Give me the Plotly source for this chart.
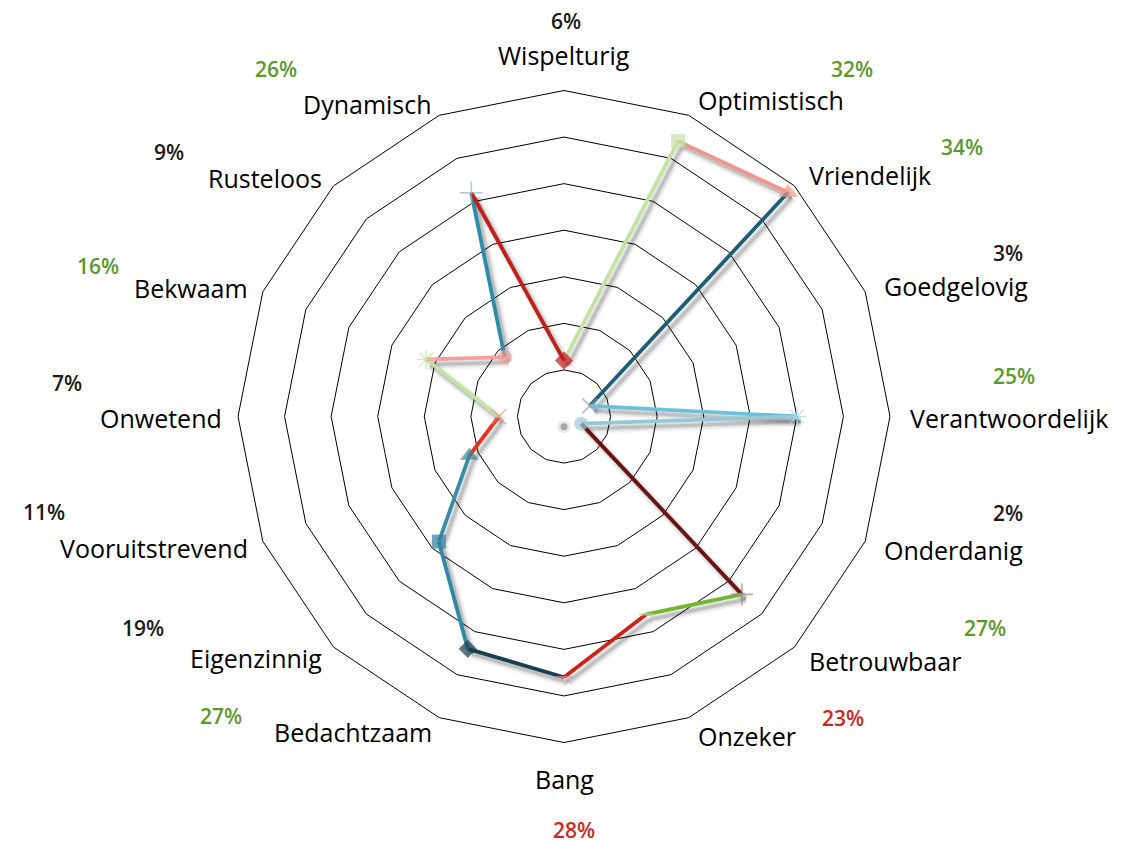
import math
import plotly.graph_objects as go

# ---------------- data ----------------
categories = ["Wispelturig", "Optimistisch", "Vriendelijk", "Goedgelovig",
              "Verantwoordelijk", "Onderdanig", "Betrouwbaar", "Onzeker",
              "Bang", "Bedachtzaam", "Eigenzinnig", "Vooruitstrevend",
              "Onwetend", "Bekwaam", "Rusteloos", "Dynamisch"]
values = [6, 32, 34, 3, 25, 2, 27, 23, 28, 27, 19, 11, 7, 16, 9, 26]
pct_labels = [f"{v}%" for v in values]
pct_colors = ["#1a1a1a", "#5b9a2c", "#5b9a2c", "#1a1a1a", "#5b9a2c", "#1a1a1a",
              "#5b9a2c", "#cc2a1e", "#cc2a1e", "#5b9a2c", "#1a1a1a", "#1a1a1a",
              "#1a1a1a", "#5b9a2c", "#1a1a1a", "#5b9a2c"]
radial_ticks = [5, 10, 15, 20, 25, 30]
radial_max = 35
center_shadow_r = [1.1]
center_shadow_theta = ["Bang"]

# styles: segment i goes from point i to point i+1
segment_colors = ["#c3e3a2", "#f3958c", "#1e5d76", "#6cc0da", "#93c8d8", "#6b1212",
                  "#72b82e", "#cc2218", "#173f4f", "#2f88a6", "#3a8ca6", "#e8321e",
                  "#c3e3a2", "#f3a09a", "#2e8ca8", "#c0201a"]
marker_symbols = ["diamond", "square", "triangle-up", "x-thin-open", "asterisk-open",
                  "circle", "cross-thin-open", "line-ew-open", "line-ew-open",
                  "diamond", "square", "triangle-up", "x-thin-open", "asterisk-open",
                  "circle", "cross-thin-open"]
marker_colors = ["#c01a18", "#c3e3a2", "#f3958c", "#8aa0b4", "#a8d8ea", "#9dcbd8",
                 "#a08a8a", "#b0d890", "#e09090", "#173f4f", "#2e7e9a", "#3a8095",
                 "#f49080", "#c3e3a2", "#f3a09a", "#8ab4c8"]
marker_sizes = [14, 14, 17, 15, 16, 14, 16, 10, 12, 14, 14, 16, 15, 16, 14, 16]
marker_line_widths = [0, 0, 0, 1.6, 1.6, 0, 1.6, 2.5, 2.5, 0, 0, 0, 1.6, 1.6, 0, 1.6]

# percentage label positions (pixels in the 1129x841 window)
pct_pos_px = [(566, 21), (852, 69), (962, 147), (1008, 253), (1014, 376),
              (1008, 513), (985, 628), (843, 718), (574, 830), (221, 716),
              (143, 628), (44, 512), (67, 383), (98, 266), (169, 152), (276, 69)]

# ---------------- geometry ----------------
W, H = 1129, 841
OFF = 8  # default body margin of the page that holds the figure
CX, CY, R = 564, 416.5, 326
SHX, SHY = 4, 5  # shadow offset in px


def px_to_paper(px, py):
    return (px - OFF) / W, 1 - (py - OFF) / H


def domain(cx, cy, r):
    x0, y1 = px_to_paper(cx - r, cy - r)
    x1, y0 = px_to_paper(cx + r, cy + r)
    return dict(x=[x0, x1], y=[y0, y1])


fig = go.Figure()
n = len(categories)

# soft shadows (drawn in the first polar, slightly offset)
for i in range(n):
    j = (i + 1) % n
    for w, a in [(11, 0.035), (8, 0.05), (5, 0.08), (3, 0.1)]:
        fig.add_trace(go.Scatterpolar(
            r=[values[i], values[j]], theta=[categories[i], categories[j]],
            mode="lines", line=dict(color=f"rgba(0,0,0,{a})", width=w),
            hoverinfo="skip", showlegend=False, subplot="polar"))

# segments
for i in range(n):
    j = (i + 1) % n
    fig.add_trace(go.Scatterpolar(
        r=[values[i], values[j]], theta=[categories[i], categories[j]],
        mode="lines", line=dict(color=segment_colors[i], width=3.8),
        hoverinfo="skip", showlegend=False, subplot="polar2"))

# faint grey dot near the centre
fig.add_trace(go.Scatterpolar(
    r=center_shadow_r * 2, theta=center_shadow_theta * 2, mode="markers",
    marker=dict(size=[13, 7], color=["rgba(0,0,0,0.12)", "rgba(60,60,60,0.55)"], line=dict(width=0)),
    hoverinfo="skip", showlegend=False, subplot="polar2"))

# markers
fig.add_trace(go.Scatterpolar(
    r=values, theta=categories, mode="markers",
    marker=dict(symbol=marker_symbols, color=marker_colors, size=marker_sizes,
                line=dict(color=marker_colors, width=marker_line_widths)),
    hoverinfo="skip", showlegend=False, subplot="polar2"))

angular_common = dict(type="category", categoryarray=categories, direction="clockwise",
                      rotation=90, showgrid=False, showticklabels=False, ticks="")

fig.update_layout(
    width=W, height=H,
    margin=dict(l=0, r=0, t=0, b=0),
    paper_bgcolor="white", plot_bgcolor="white",
    showlegend=False,
    font=dict(family="Open Sans, Noto Sans, sans-serif", color="#000000"),
    polar=dict(
        domain=domain(CX + SHX, CY + SHY, R),
        gridshape="linear", bgcolor="rgba(0,0,0,0)",
        angularaxis=dict(angular_common, showline=False),
        radialaxis=dict(range=[0, radial_max], showgrid=False, showline=False,
                        showticklabels=False, ticks=""),
    ),
    polar2=dict(
        domain=domain(CX, CY, R),
        gridshape="linear", bgcolor="rgba(0,0,0,0)",
        angularaxis=dict(angular_common, showline=True, linecolor="#000000", linewidth=1),
        radialaxis=dict(range=[0, radial_max], tickvals=radial_ticks, showgrid=True,
                        gridcolor="#000000", gridwidth=1, showline=False,
                        showticklabels=False, ticks=""),
    ),
)

annotations = []
RL_RIGHT, RL_LEFT, RL_V = 344, 340, 343
for i, cat in enumerate(categories):
    ang = math.radians(i * 360 / n)
    s, c = math.sin(ang), math.cos(ang)
    if abs(s) < 1e-6:
        rl = RL_V
        xa = "center"
        ya = "bottom" if c > 0 else "top"
    else:
        rl = RL_RIGHT if s > 0 else RL_LEFT
        xa = "left" if s > 0 else "right"
        ya = "middle"
    px, py = CX + rl * s, CY - rl * c + (0 if abs(s) < 1e-6 else 1.5)
    x, y = px_to_paper(px, py)
    annotations.append(dict(x=x, y=y, xref="paper", yref="paper", text=cat,
                            showarrow=False, xanchor=xa, yanchor=ya,
                            font=dict(size=25, color="#000000",
                                      family="Open Sans, Noto Sans, sans-serif")))

for lab, col, (px, py) in zip(pct_labels, pct_colors, pct_pos_px):
    x, y = px_to_paper(px, py)
    annotations.append(dict(x=x, y=y, xref="paper", yref="paper", text=lab,
                            showarrow=False, xanchor="center", yanchor="middle",
                            font=dict(size=21, color=col, weight=600,
                                      family="Open Sans, Noto Sans, sans-serif")))

fig.update_layout(annotations=annotations)

fig.write_html("out.html")
